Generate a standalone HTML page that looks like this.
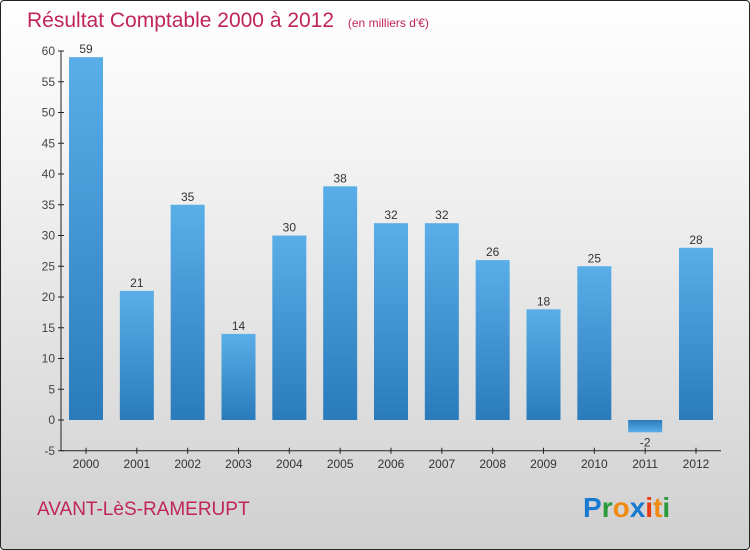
<!DOCTYPE html>
<html><head><meta charset="utf-8"><style>
body{margin:0;}
#wrap{position:relative;width:748px;height:548px;border:1px solid #222;border-radius:4px;background:linear-gradient(#ffffff,#f2f2f2 30%,#d0d0d0);overflow:hidden;font-family:"Liberation Sans",sans-serif;}
</style></head><body>
<div id="wrap">
<svg id="chart" width="748" height="548">
<defs><linearGradient id="bg" x1="0" y1="0" x2="0" y2="1"><stop offset="0" stop-color="#5aaee8"/><stop offset="1" stop-color="#2a7bbb"/></linearGradient>
<linearGradient id="bgn" x1="0" y1="0" x2="0" y2="1"><stop offset="0" stop-color="#2a7bbb"/><stop offset="1" stop-color="#5aaee8"/></linearGradient></defs>
<text x="26" y="26" font-size="21" fill="#c0245a">Résultat Comptable 2000 à 2012 <tspan font-size="12" dx="8">(en milliers d'€)</tspan></text>
<text x="36" y="514" font-size="19" fill="#c0245a">AVANT-LèS-RAMERUPT</text>
<g font-size="28" font-weight="bold" font-family="Liberation Sans,sans-serif">
<text x="582" y="516"><tspan fill="#1a7ad0">P</tspan><tspan fill="#2a9a3a">r</tspan><tspan fill="#f08a10">o</tspan><tspan fill="#1a7ad0">x</tspan><tspan fill="#e83a10">i</tspan><tspan fill="#f08a10">t</tspan><tspan fill="#2a9a3a">i</tspan></text></g>
<g id="plot"></g>
</svg>
</div>
<script>
const categories=["2000","2001","2002","2003","2004","2005","2006","2007","2008","2009","2010","2011","2012"];
const values=[59,21,35,14,30,38,32,32,26,18,25,-2,28];
const yTicks=[-5,0,5,10,15,20,25,30,35,40,45,50,55,60];
const NS="http://www.w3.org/2000/svg";
const g=document.getElementById('plot');
const y=v=>419-v*(369/60);
const x=i=>85+i*(610/12);
function mk(t,a,p){const e=document.createElementNS(NS,t);for(const k in a)e.setAttribute(k,a[k]);(p||g).appendChild(e);return e;}
let ax=mk('line',{x1:60,x2:60,y1:y(60),y2:y(-5),stroke:'#222'});


let xa=mk('line',{x1:60,x2:720,y1:y(-5),y2:y(-5),stroke:'#222'});


yTicks.forEach(t=>{
 mk('line',{x1:57,x2:63,y1:y(t),y2:y(t),stroke:'#222'});
 const tx=mk('text',{x:54,y:y(t)+4,'text-anchor':'end','font-size':12,fill:'#444'});
 tx.textContent=t;
 
 
});
categories.forEach((c,i)=>{
 const v=values[i];
 mk('line',{x1:x(i),x2:x(i),y1:y(-5)-3,y2:y(-5)+3,stroke:'#222'});
 const r=mk('rect',{x:x(i)-17,width:34,y:Math.min(y(v),y(0)),height:Math.abs(y(v)-y(0)),fill:v<0?'url(#bgn)':'url(#bg)'});
 
 
 const lt=mk('text',{x:x(i),y:v<0?y(v)+14:y(v)-4,'text-anchor':'middle','font-size':12,fill:'#333'});
 lt.textContent=v;
 
 
 const ct=mk('text',{x:x(i),y:y(-5)+17,'text-anchor':'middle','font-size':12,fill:'#333'});
 ct.textContent=c;
 
 
});
</script>
</body></html>
